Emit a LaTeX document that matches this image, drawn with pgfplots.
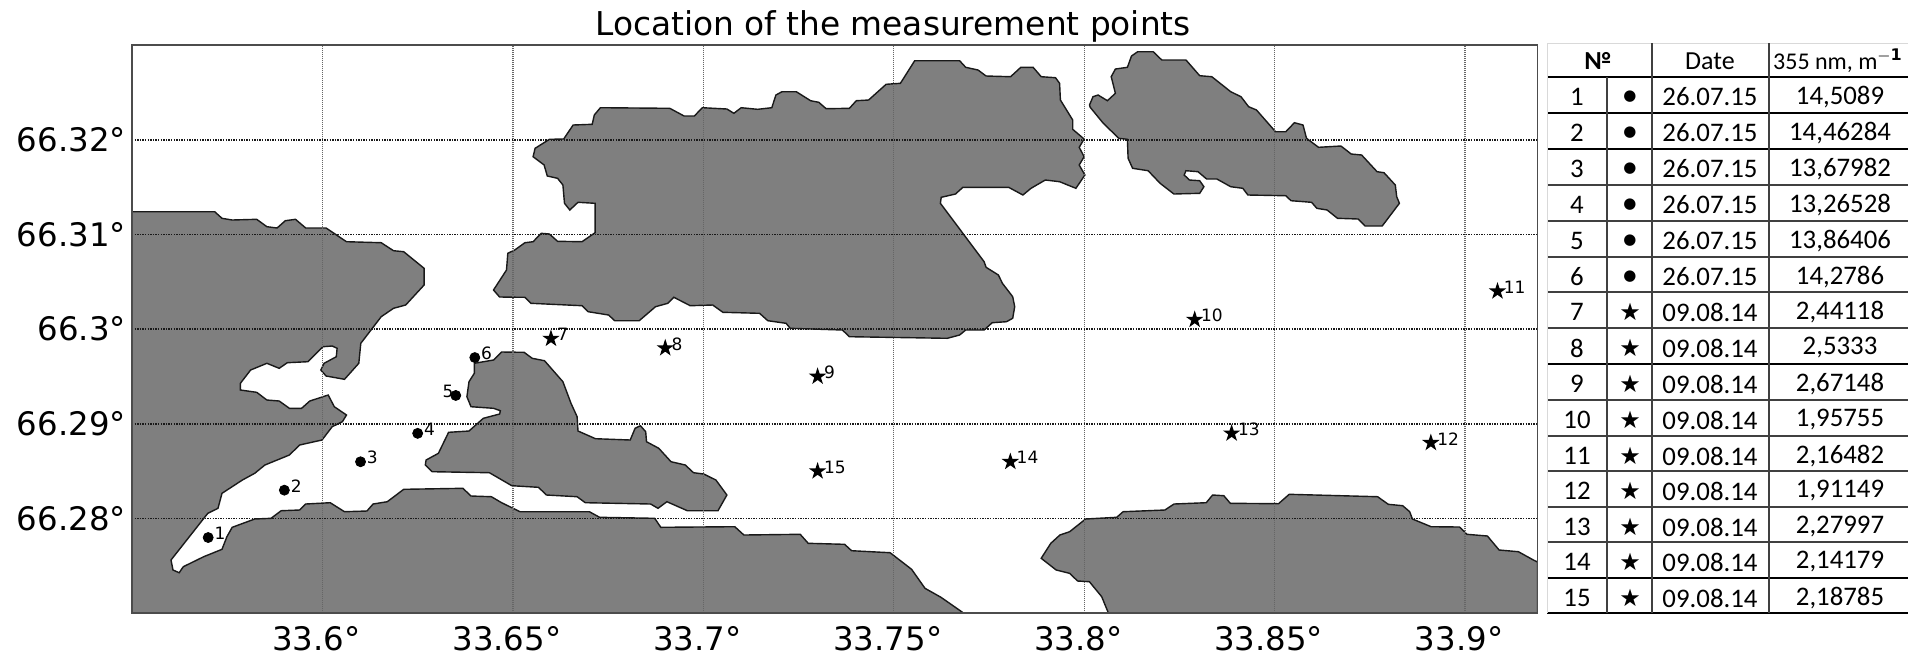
\documentclass[border=0pt]{standalone}
\usepackage{fontspec}
\setmainfont{DejaVu Sans}
\newfontfamily\calfont{Carlito}
\newfontfamily\symfont{DejaVu Sans}
\usepackage{pgfplots}
\pgfplotsset{compat=1.18}
\definecolor{land}{HTML}{7F7F7F}
\pgfdeclareplotmark{fstar}{%
  \pgfpathmoveto{\pgfpointpolar{90}{\pgfplotmarksize}}%
  \pgfpathlineto{\pgfpointpolar{126}{0.382*\pgfplotmarksize}}%
  \pgfpathlineto{\pgfpointpolar{162}{\pgfplotmarksize}}%
  \pgfpathlineto{\pgfpointpolar{198}{0.382*\pgfplotmarksize}}%
  \pgfpathlineto{\pgfpointpolar{234}{\pgfplotmarksize}}%
  \pgfpathlineto{\pgfpointpolar{270}{0.382*\pgfplotmarksize}}%
  \pgfpathlineto{\pgfpointpolar{306}{\pgfplotmarksize}}%
  \pgfpathlineto{\pgfpointpolar{342}{0.382*\pgfplotmarksize}}%
  \pgfpathlineto{\pgfpointpolar{18}{\pgfplotmarksize}}%
  \pgfpathlineto{\pgfpointpolar{54}{0.382*\pgfplotmarksize}}%
  \pgfpathclose\pgfusepathqfill}
\begin{document}
\begin{tikzpicture}[x=0.5pt,y=-0.5pt]
\path[use as bounding box] (0,0) rectangle (1908,659);
% land outlines, digitised in picture units
\begin{axis}[at={(66pt,-306.65pt)},anchor=south west,scale only axis,width=702.75pt,height=284.15pt,
  hide axis,xmin=132,xmax=1537.5,ymin=45,ymax=613.3,y dir=reverse]
\addplot[fill=land,draw=black!90,line width=0.7pt] coordinates {
(132.2,211.7)(214.7,211.7)(222,218.3)(232.2,220)(256.7,219.3)(266.9,226.7)(277.1,228)(285.3,220.7)(295.5,219.3)(305.7,228)(326.1,228)(346.5,241.7)(381.2,242.7)(393.5,250.7)(403.7,251.7)(424.1,268.3)(424.1,285)(405.7,305)(393.5,308.3)(381.2,316.7)(360.8,343.3)(358.8,363.3)(344.5,379.3)(326.1,376)(320.8,370)(324.1,363.3)(336.3,356.7)(337.1,348.3)(332.2,346)(322.9,346.7)(307.8,361.7)(287.3,362.7)(279.2,368.3)(266.9,363.3)(250.6,370)(240.4,383.3)(240.4,390)(256.7,392.3)(266.9,400)(279.2,401)(289.4,408.3)(301.6,408.3)(309.8,401)(328.2,395)(334.3,406.7)(346.5,415)(342.4,421.7)(332.2,426.7)(322,440)(299.6,445)(289.4,455)(264.9,465)(254.7,473.3)(242.4,480)(222,493.3)(218,508.3)(207.8,513.3)(171,560)(173,570)(179.2,572.7)(183.3,566.7)(203.7,556.7)(222,549.3)(226.9,536.7)(232.2,527.3)(254.7,519)(271,518.3)(281.2,510.7)(299.6,510)(305.7,504)(330.2,502.7)(344.5,511.7)(366.9,511)(373.1,504)(387.3,501.7)(403.7,489.3)(462.9,488.3)(471,496)(491.4,496.7)(501.6,502.7)(520,511.7)(589.4,511.7)(599.6,517.3)(654.7,518.3)(660.8,527.3)(734.8,526.7)(743.9,535)(800.2,534.3)(808.2,543.3)(844.6,544.3)(851.6,550.7)(890.1,552.7)(911.6,569.3)(925,588.3)(941,597.3)(962.5,612.3)(963,613.3)(132.2,613.3)
} --cycle;
\addplot[fill=land,draw=black!90,line width=0.7pt] coordinates {
(474.3,363.3)(493.5,360)(501.6,352)(524.1,352.3)(532.2,358.3)(544.5,360.7)(562.9,381.7)(571,403.3)(577.1,416.7)(578,431)(595.5,438.7)(630.2,440)(635.1,428.3)(640.4,425.7)(645.7,431.7)(646.5,441.7)(658.8,448.3)(671,461.7)(685.3,465)(693.5,472.7)(703.7,474)(715.9,480)(726.9,495)(718,510.7)(687.3,510.7)(666.9,501.7)(658,508.3)(650.6,504)(585.3,502.7)(577.1,496.7)(546.5,495)(538.4,487.3)(511.8,485.7)(489.4,472.7)(432.2,471.7)(425.3,465)(426.1,460)(438.4,453.3)(448.6,432.3)(469,431)(483.3,418.3)(499.6,414)(500.4,410.7)(493.5,408.3)(471,406.7)(466.9,396.7)(469,381.7)(474.3,373.3)
} --cycle;
\addplot[fill=land,draw=black!90,line width=0.7pt] coordinates {
(493.5,290)(506.5,270)(507.8,253.3)(514.7,250)(524.9,242.7)(533.1,241.7)(541.2,233.3)(549.4,234)(557.6,241.3)(582,241.7)(595.1,232.7)(595.1,203.3)(578,202.3)(569.8,210)(564.5,203.3)(562.9,185)(557.6,178.3)(547.3,176)(544.1,165)(533.1,156.7)(535.1,148.3)(549.4,139.3)(563.7,139)(573.1,125)(592.2,124.3)(594.3,115)(600.4,107.7)(669.8,108.3)(684.1,116)(694.3,116)(702.4,107.7)(726.9,109)(733.9,113.3)(741.2,107.7)(757.6,109.3)(771.8,107.7)(775.9,95)(782,91.7)(796.3,91.7)(810.6,100.7)(818.8,102.3)(826.1,108.7)(849.4,108.3)(856.3,100.7)(868.6,100)(886.1,84.3)(900.4,83.3)(914.7,60.7)(959.6,60.7)(965.7,67.3)(978,70)(986.1,76)(1010.6,76.7)(1020.8,67.3)(1033.1,67.3)(1041.2,76.7)(1055.5,77.7)(1059.6,83.3)(1060.4,100)(1072.7,120)(1072.7,129.3)(1084.1,139)(1079.2,147.3)(1084.1,156.7)(1079.2,165)(1084.9,175)(1075.9,188.3)(1059.6,181.7)(1045.3,180)(1031,188.3)(1022.9,195)(1008.6,187.3)(962.9,187.3)(955.5,194)(941.2,197.3)(940.4,203.3)(984.1,261.7)(986.1,267.3)(998.4,275)(1002.4,283.3)(1012.7,296.7)(1014.7,306.7)(1012.7,318.3)(1006.5,321.7)(992.2,322.7)(984.1,330)(965.7,330)(959.6,335)(947.3,338.3)(849.4,336.7)(842.4,330)(790.2,328.3)(786.1,323.3)(767.8,320.7)(759.6,313.3)(722.9,312.3)(712.7,305)(690.2,305.7)(673.9,297.3)(667.8,303.3)(655.5,306.7)(639.2,320.7)(614.7,320.7)(608.6,315)(588.2,311.7)(582,305.7)(531,303.3)(524.9,297.3)(499.6,297)
} --cycle;
\addplot[fill=land,draw=black!90,line width=0.7pt] coordinates {
(1089.5,105)(1093,96.7)(1098.1,95)(1107.4,100.7)(1115.4,93.3)(1111.2,76.7)(1115.4,69)(1127.4,67.3)(1131.5,56)(1137.7,51.7)(1153.2,51.7)(1161.8,60)(1186,60)(1199.7,75.7)(1211.8,76.7)(1230.7,91.7)(1241,96.7)(1248.6,106.7)(1256.5,110)(1275.5,131.7)(1285.8,131.7)(1294.4,122.7)(1303,125)(1306.5,138.3)(1318.5,147.3)(1340.9,146)(1351.2,154)(1361.6,155)(1377.1,171.7)(1384,172.7)(1395.3,185)(1396.7,196.7)(1399.4,203.3)(1382.2,226)(1365,226)(1358.1,219)(1337.5,218.3)(1327.1,210)(1316.8,208.3)(1311.6,202.3)(1291,200.7)(1285.8,195.7)(1247.9,195)(1242.8,188.3)(1230.7,186.7)(1216.9,179)(1206.6,179)(1198,171.7)(1186,170.7)(1184.2,175)(1189.4,180)(1199.7,180.7)(1203.9,186.7)(1199.7,193.3)(1173.9,194)(1160.1,183.3)(1148.1,170.7)(1132.6,168.3)(1128.1,158.3)(1127.4,139.3)(1118.8,138.3)(1103.3,123.3)(1090.2,107.3)
} --cycle;
\addplot[fill=land,draw=black!90,line width=0.7pt] coordinates {
(1108.1,612.3)(1101.7,596.7)(1089.4,581.7)(1077.6,581)(1069.6,573.3)(1056.2,570)(1041.2,558.3)(1050.8,543.3)(1059.9,535)(1069.6,531.7)(1085.6,519)(1116.7,517.3)(1123.1,511.7)(1164.9,510)(1174,504)(1206.2,502.7)(1212.6,495)(1223.8,495.7)(1230.3,503.3)(1278.5,503.7)(1289.2,494.3)(1377.6,496.7)(1388.3,504.3)(1402.7,505.7)(1409.7,511.7)(1412.4,519)(1431.1,526.7)(1459.5,527)(1467,534.3)(1487.4,536)(1499.1,550)(1518.4,551.7)(1533.4,560)(1537.5,562)(1537.5,613.3)(1108.5,613.3)
} --cycle;
\end{axis}
% grid, ticks and stations
\begin{axis}[at={(66pt,-306.65pt)},anchor=south west,scale only axis,width=702.75pt,height=284.15pt,
  xmin=33.55,xmax=33.919,ymin=66.27,ymax=66.33,
  xtick={33.6,33.65,33.7,33.75,33.8,33.85,33.9},
  xticklabels={33.6°,33.65°,33.7°,33.75°,33.8°,33.85°,33.9°},
  ytick={66.28,66.29,66.3,66.31,66.32},
  yticklabels={66.28°,66.29°,66.3°,66.31°,66.32°},
  major tick length=0pt,
  tick label style={font=\fontsize{16.2}{17}\selectfont},
  xticklabel style={yshift=-3.2pt,xshift=-3pt},
  yticklabel style={xshift=0.5pt},
  grid=major,
  x grid style={black!60,dash pattern=on 0.6pt off 0.4pt,line width=0.7pt},
  y grid style={black!90,dash pattern=on 0.7pt off 0.6pt,line width=0.8pt},
  axis line style={black!70,line width=0.9pt},
  title={Location of the measurement points},
  title style={font=\fontsize{16.4}{18}\selectfont,at={(axis description cs:0.5415,1)},anchor=south,yshift=-8pt},
  point meta=explicit symbolic,
  nodes near coords,
  every node near coord/.style={anchor=west,font=\fontsize{8.5}{9}\selectfont,xshift=2pt,yshift=2pt,inner sep=1pt,text=black},
  clip=false]
\addplot[only marks,mark=*,mark size=2.5pt,black] table[x=x,y=y,meta=n] {
x y n
33.57 66.278 1
33.59 66.283 2
33.61 66.286 3
33.625 66.289 4
33.64 66.297 6
};
\addplot[only marks,mark=*,mark size=2.5pt,black,
  every node near coord/.append style={anchor=east,xshift=-2pt}] table[x=x,y=y,meta=n] {
x y n
33.635 66.293 5
};
\addplot[only marks,mark=fstar,mark size=4.6pt,black] table[x=x,y=y,meta=n] {
x y n
33.66 66.299 7
33.69 66.298 8
33.73 66.295 9
33.829 66.301 10
33.9085 66.304 11
33.891 66.288 12
33.8387 66.289 13
33.7806 66.286 14
33.73 66.285 15
};
\end{axis}
% table
\foreach \y in {113,149,364,578,77,613}
  \draw[black,line width=1.1pt] (1547,\y) -- (1908,\y);
\foreach \y in {185,221,257,292,328,400,436,471,507,542}
  \draw[black!75,line width=0.6pt] (1547,\y) -- (1908,\y);
\draw[black!15,line width=0.5pt] (1547,43) -- (1908,43);
\draw[black!15,line width=0.5pt] (1547,43) -- (1547,613);
\draw[black!75,line width=0.6pt] (1607,77) -- (1607,613);
\draw[black!75,line width=0.6pt] (1652,43) -- (1652,613);
\draw[black!75,line width=0.6pt] (1769,43) -- (1769,613);
\node[font=\calfont\bfseries\fontsize{13}{14}\selectfont] at (1598,61) {№};
\node[font=\calfont\fontsize{13}{14}\selectfont] at (1710,61) {Date};
\node[font=\calfont\fontsize{12}{14}\selectfont] at (1838,61) {355 nm, m$^{\mathbf{-1}}$};
\foreach \n/\m/\s/\d/\v/\y in {
 1/●/7.5/26.07.15/{14,5089}/97,
 2/●/7.5/26.07.15/{14,46284}/133,
 3/●/7.5/26.07.15/{13,67982}/169,
 4/●/7.5/26.07.15/{13,26528}/205,
 5/●/7.5/26.07.15/{13,86406}/241,
 6/●/7.5/26.07.15/{14,2786}/277,
 7/★/12/09.08.14/{2,44118}/312,
 8/★/12/09.08.14/{2,5333}/348,
 9/★/12/09.08.14/{2,67148}/384,
 10/★/12/09.08.14/{1,95755}/420,
 11/★/12/09.08.14/{2,16482}/456,
 12/★/12/09.08.14/{1,91149}/491,
 13/★/12/09.08.14/{2,27997}/527,
 14/★/12/09.08.14/{2,14179}/562,
 15/★/12/09.08.14/{2,18785}/598}{
  \node[font=\calfont\fontsize{13.4}{14}\selectfont] at (1577,\y) {\n};
  \node[font=\symfont\fontsize{\s}{11}\selectfont] at (1630,\y) {\m};
  \node[font=\calfont\fontsize{13.4}{14}\selectfont] at (1710,\y) {\d};
  \node[font=\calfont\fontsize{13.4}{14}\selectfont] at (1840,\y) {\v};
}
\end{tikzpicture}
\end{document}
